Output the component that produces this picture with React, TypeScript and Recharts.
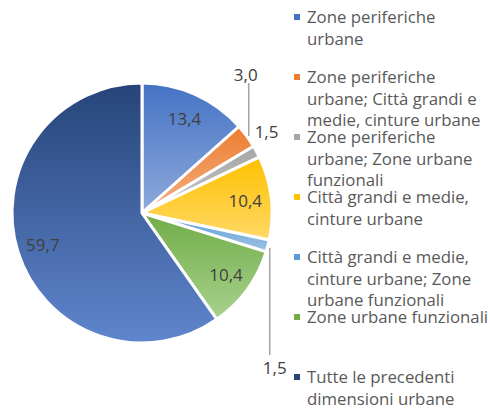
import { PieChart, Pie, Cell, Legend } from "recharts";

// legend text as Excel wrapped it
const legendLines: string[][] = [
  ["Zone periferiche", "urbane"],
  ["Zone periferiche", "urbane; Città grandi e", "medie, cinture urbane"],
  ["Zone periferiche", "urbane; Zone urbane", "funzionali"],
  ["Città grandi e medie,", "cinture urbane"],
  ["Città grandi e medie,", "cinture urbane; Zone", "urbane funzionali"],
  ["Zone urbane funzionali"],
  ["Tutte le precedenti", "dimensioni urbane"]
];

const categories = legendLines.map((l) => l.join(" "));
const values = [13.4, 3.0, 1.5, 10.4, 1.5, 10.4, 59.7];

const topColors = ["#4472C4", "#ED7D31", "#A5A5A5", "#FFC000", "#5B9BD5", "#70AD47", "#264478"];
const bottomColors = ["#8FAADC", "#F4B183", "#C9C9C9", "#FFD966", "#9DC3E6", "#A9D18E", "#5F85CD"];

// where each value label goes
const labelModes = ["inside", "up", "near", "inside", "down", "inside", "inside"];

const data = categories.map((name, i) => ({ name, value: values[i] }));

const RAD = Math.PI / 180;
const FONT = "'Open Sans', Lato, sans-serif";

const fmt = (v: number) => v.toFixed(1).replace(".", ",");

const renderLabel = (props: any) => {
  const { cx, cy, midAngle, outerRadius, index } = props;
  const cos = Math.cos(-midAngle * RAD);
  const sin = Math.sin(-midAngle * RAD);
  const mode = labelModes[index];
  const txt = fmt(values[index]);
  const common = {
    fill: "#404040",
    fontSize: 17,
    fontFamily: FONT,
    textAnchor: "middle" as const,
    dominantBaseline: "central" as const
  };

  if (mode === "inside") {
    const r = outerRadius * 0.8;
    return (
      <text key={index} x={cx + r * cos} y={cy + r * sin} {...common}>
        {txt}
      </text>
    );
  }

  const ex = cx + outerRadius * cos;
  const ey = cy + outerRadius * sin;

  if (mode === "up") {
    const top = cy - outerRadius;
    return (
      <g key={index}>
        <line x1={ex + 2} y1={ey} x2={ex + 2} y2={top} stroke="#A5A5A5" strokeWidth={1.5} />
        <text x={ex - 1} y={top - 9} {...common}>{txt}</text>
      </g>
    );
  }

  if (mode === "down") {
    const bottom = cy + outerRadius + 12;
    return (
      <g key={index}>
        <line x1={ex + 2} y1={ey + 2} x2={ex + 2} y2={bottom} stroke="#A5A5A5" strokeWidth={1.5} />
        <text x={ex + 7} y={bottom + 12} {...common}>{txt}</text>
      </g>
    );
  }

  return (
    <text key={index} x={ex + 10} y={ey - 20} {...common}>
      {txt}
    </text>
  );
};

const renderLegend = () => (
  <div style={{ position: "relative", fontFamily: FONT, fontSize: 16.8, color: "#595959" }}>
    {legendLines.map((lines, i) => (
      <div
        key={i}
        style={{ position: "absolute", left: 0, top: 6 + i * 60, lineHeight: "21.5px" }}
      >
        <span
          style={{
            position: "absolute",
            left: 0,
            top: 8,
            width: 6,
            height: 6,
            background: topColors[i]
          }}
        />
        <div style={{ marginLeft: 13, whiteSpace: "nowrap" }}>
          {lines.map((l, j) => (
            <div key={j}>{l}</div>
          ))}
        </div>
      </div>
    ))}
  </div>
);

export default function App() {
  return (
    <div style={{ position: "absolute", left: 0, top: 0, width: 490, height: 410, background: "#fff" }}>
      <PieChart width={490} height={410} margin={{ top: 0, right: 0, bottom: 0, left: 0 }}>
        <defs>
          {topColors.map((c, i) => (
            <linearGradient key={i} id={`g${i}`} x1="0" y1="0" x2="0" y2="1">
              <stop offset="0%" stopColor={c} />
              <stop offset="100%" stopColor={bottomColors[i]} />
            </linearGradient>
          ))}
        </defs>

        <Pie
          data={data}
          dataKey="value"
          nameKey="name"
          cx={142}
          cy={213}
          outerRadius={130}
          startAngle={90}
          endAngle={-270}
          stroke="#fff"
          strokeWidth={3}
          label={renderLabel}
          labelLine={false}
          isAnimationActive={false}
        >
          {data.map((_, i) => (
            <Cell key={i} fill={`url(#g${i})`} stroke="#fff" strokeWidth={3} />
          ))}
        </Pie>

        <Legend
          layout="vertical"
          align="right"
          verticalAlign="top"
          content={renderLegend}
          wrapperStyle={{ left: 294, top: 0, width: 196 }}
        />
      </PieChart>
    </div>
  );
}
